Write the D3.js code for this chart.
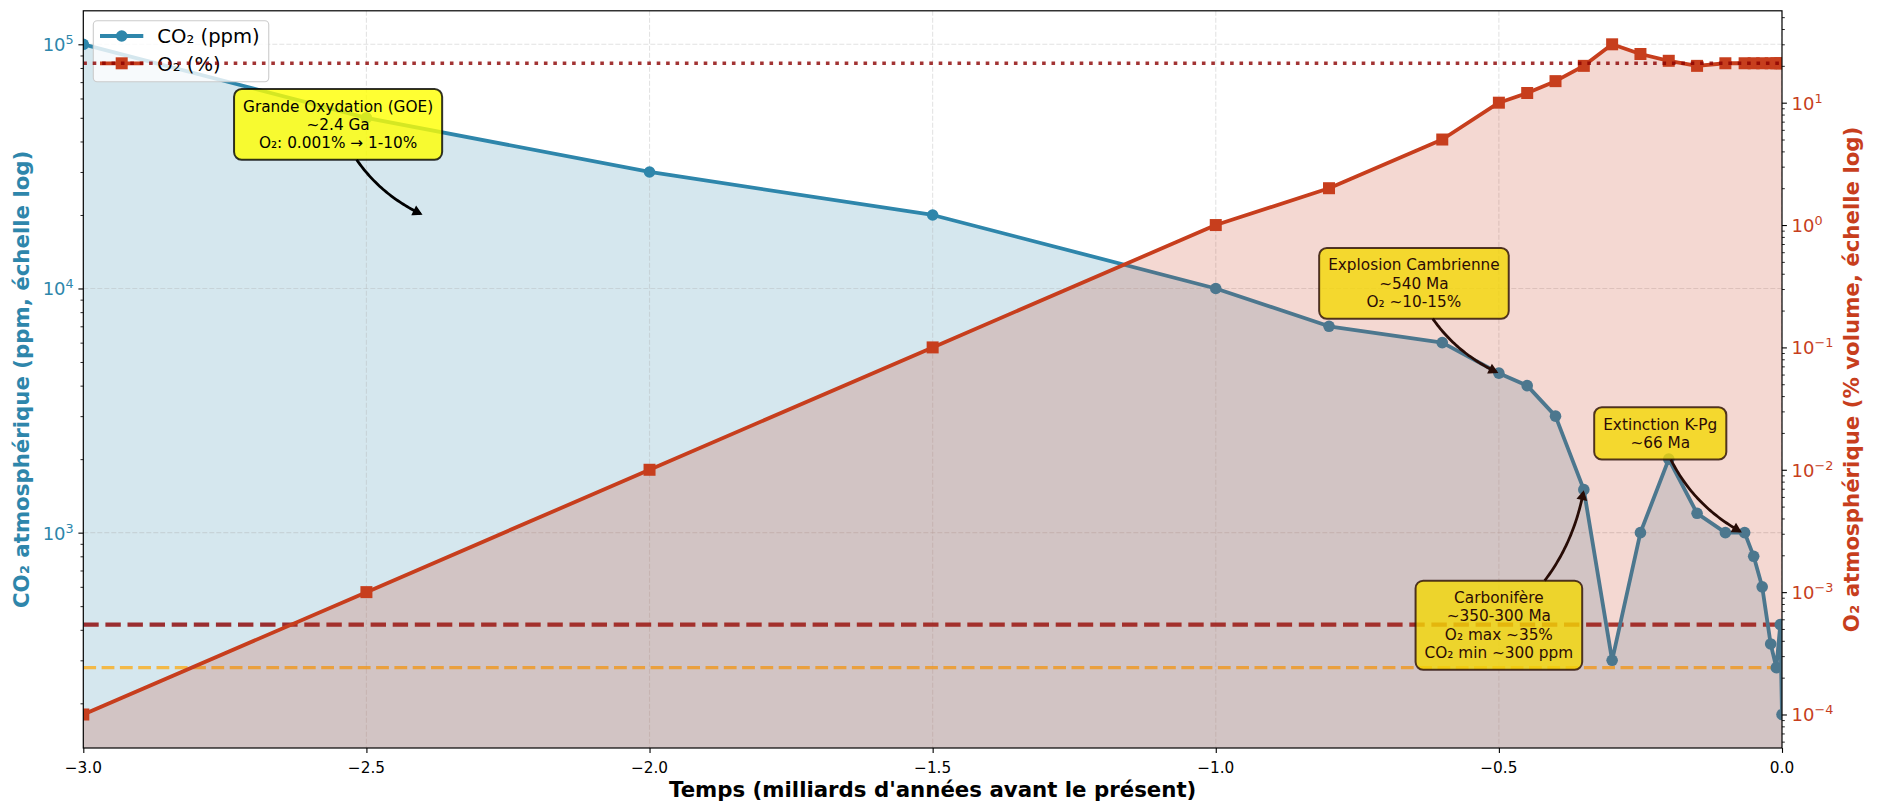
<!DOCTYPE html>
<html><head><meta charset="utf-8">
<script src="https://cdn.jsdelivr.net/npm/d3@7"></script>
<style>
body{margin:0;background:#fff}
svg{display:block}
text{font-family:"DejaVu Sans",sans-serif}
</style>
</head><body>
<svg id="chart" width="1879" height="806"></svg>
<script>
// ---------- DATA ----------
const times = [-3.0,-2.5,-2.0,-1.5,-1.0,-0.8,-0.6,-0.5,-0.45,-0.4,-0.35,-0.3,-0.25,-0.2,-0.15,-0.1,-0.066,-0.05,-0.035,-0.02,-0.01,-0.003,-0.00002];
const co2  = [100000,50000,30000,20000,10000,7000,6000,4500,4000,3000,1500,300,1000,2000,1200,1000,1000,800,600,350,280,420,180];
const o2   = [0.0001,0.001,0.01,0.1,1,2,5,10,12,15,20,30,25,22,20,21,21,21,21,21,21,21,21];
const xTicks = [-3.0,-2.5,-2.0,-1.5,-1.0,-0.5,0.0];
const co2TickExps = [3,4,5];
const o2TickExps = [-4,-3,-2,-1,0,1];
const co2RefLines = [420, 280];
const o2RefLine = 21;
const seriesLabels = ["CO₂ (ppm)", "O₂ (%)"];
const xLabel = "Temps (milliards d'années avant le présent)";
const yLabelLeft = "CO₂ atmosphérique (ppm, échelle log)";
const yLabelRight = "O₂ atmosphérique (% volume, échelle log)";
const annTexts = [
  ["Grande Oxydation (GOE)","~2.4 Ga","O₂: 0.001% → 1-10%"],
  ["Explosion Cambrienne","~540 Ma","O₂ ~10-15%"],
  ["Extinction K-Pg","~66 Ma"],
  ["Carbonifère","~350-300 Ma","O₂ max ~35%","CO₂ min ~300 ppm"]
];
const annPoints = [[-2.4,20000],[-0.5,4500],[-0.07,1000],[-0.35,1500]];
const annTextPos = [[-2.55,47000],[-0.65,10500],[-0.215,2550],[-0.5,418]];

// ---------- LAYOUT ----------
const L=83.3, R=1782, T=10.8, B=748;
const cCO2='#2E86AB', cO2='#C73E1D';
const LW=3.8, MR=5.8, MS=12;
const svg=d3.select('#chart');
svg.append('rect').attr('width',1879).attr('height',806).attr('fill','#fff');
svg.append('defs').append('clipPath').attr('id','clip').append('rect')
  .attr('x',L).attr('y',T).attr('width',R-L).attr('height',B-T);

function logDomain(v){const e=d3.extent(v).map(Math.log10);const m=(e[1]-e[0])*0.05;return [10**(e[0]-m),10**(e[1]+m)];}
const x=d3.scaleLinear().domain([xTicks[0],xTicks[xTicks.length-1]]).range([L,R]);
const yC=d3.scaleLog().domain(logDomain(co2)).range([B,T]);
const yO=d3.scaleLog().domain(logDomain(o2)).range([B,T]);
const idx=d3.range(times.length);

// ---------- AX1 (CO2) ----------
const ax1=svg.append('g').attr('clip-path','url(#clip)');
ax1.append('path').datum(idx)
  .attr('d',d3.area().x(i=>x(times[i])).y0(B).y1(i=>yC(co2[i])))
  .attr('fill',cCO2).attr('fill-opacity',0.2);
// grid
ax1.selectAll('.gx').data(xTicks).join('line')
  .attr('x1',d=>x(d)).attr('x2',d=>x(d)).attr('y1',T).attr('y2',B)
  .attr('stroke','#b0b0b0').attr('stroke-opacity',0.35).attr('stroke-width',1.1).attr('stroke-dasharray','5,2');
ax1.selectAll('.gy').data(co2TickExps.map(e=>10**e)).join('line')
  .attr('x1',L).attr('x2',R).attr('y1',d=>yC(d)).attr('y2',d=>yC(d))
  .attr('stroke','#b0b0b0').attr('stroke-opacity',0.35).attr('stroke-width',1.1).attr('stroke-dasharray','5,2');
// reference lines
const refStyles=[{c:'darkred',o:0.8,w:4.1,d:'15.4,6.7'},{c:'orange',o:0.7,w:3.1,d:'12.8,5.5'}];
co2RefLines.forEach((v,k)=>{
  ax1.append('line').attr('x1',L).attr('x2',R).attr('y1',yC(v)).attr('y2',yC(v))
    .attr('stroke',refStyles[k].c).attr('stroke-opacity',refStyles[k].o)
    .attr('stroke-width',refStyles[k].w).attr('stroke-dasharray',refStyles[k].d);
});
// line + markers
ax1.append('path').datum(idx)
  .attr('d',d3.line().x(i=>x(times[i])).y(i=>yC(co2[i])))
  .attr('fill','none').attr('stroke',cCO2).attr('stroke-width',LW).attr('stroke-linejoin','round');
ax1.selectAll('.mc').data(idx).join('circle')
  .attr('cx',i=>x(times[i])).attr('cy',i=>yC(co2[i])).attr('r',MR).attr('fill',cCO2);

// annotations
const fs=15.3, lineH=fs*1.2, padX=9, padY=7.8;
const annG=svg.append('g');
annTexts.forEach((lines,k)=>{
  const cx=x(annTextPos[k][0]), cy=yC(annTextPos[k][1]);
  const g=annG.append('g');
  const rect=g.append('rect');
  const t=g.append('text').attr('font-size',fs).attr('text-anchor','middle').attr('fill','#000');
  lines.forEach((s,i)=>{
    t.append('tspan').attr('x',cx).attr('y',cy+(i-(lines.length-1)/2)*lineH+0.36*fs).text(s);
  });
  let maxW=0; t.selectAll('tspan').each(function(){maxW=Math.max(maxW,this.getComputedTextLength());});
  const bw=maxW+2*padX, bh=lines.length*lineH+2*padY;
  const box={x0:cx-bw/2,x1:cx+bw/2,y0:cy-bh/2,y1:cy+bh/2};
  rect.attr('x',box.x0).attr('y',box.y0).attr('width',bw).attr('height',bh).attr('rx',7.6)
    .attr('fill','yellow').attr('fill-opacity',0.8).attr('stroke','#000').attr('stroke-opacity',0.8).attr('stroke-width',2);
  // arrow (arc3, rad=0.2)
  const p0=[cx,cy], p2=[x(annPoints[k][0]), yC(annPoints[k][1])];
  const rad=0.2, dx=p2[0]-p0[0], dy=p2[1]-p0[1];
  const c=[(p0[0]+p2[0])/2-rad*dy,(p0[1]+p2[1])/2+rad*dx];
  const Bz=tt=>[(1-tt)*(1-tt)*p0[0]+2*tt*(1-tt)*c[0]+tt*tt*p2[0],(1-tt)*(1-tt)*p0[1]+2*tt*(1-tt)*c[1]+tt*tt*p2[1]];
  const inside=p=>p[0]>=box.x0&&p[0]<=box.x1&&p[1]>=box.y0&&p[1]<=box.y1;
  let lo=0,hi=1; for(let j=0;j<40;j++){const m=(lo+hi)/2; if(inside(Bz(m)))lo=m; else hi=m;}
  const t0=hi;
  let a=t0,b2=1; for(let j=0;j<40;j++){const m=(a+b2)/2;const p=Bz(m);if(Math.hypot(p[0]-p2[0],p[1]-p2[1])>2.8)a=m;else b2=m;}
  const t1=a;
  const pts=d3.range(0,41).map(j=>Bz(t0+(t1-t0)*j/40));
  g.append('path').attr('d',d3.line()(pts)).attr('fill','none').attr('stroke','#000').attr('stroke-width',2.8);
  const tip=pts[pts.length-1], pr=Bz(t1-0.01);
  let ux=tip[0]-pr[0], uy=tip[1]-pr[1]; const n=Math.hypot(ux,uy); ux/=n; uy/=n;
  const hl=6.5, hw=3.6;
  const h1=[tip[0]-hl*ux-hw*uy, tip[1]-hl*uy+hw*ux], h2=[tip[0]-hl*ux+hw*uy, tip[1]-hl*uy-hw*ux];
  g.append('path').attr('d',`M${h1}L${tip}L${h2}Z`).attr('fill','#000').attr('stroke','#000').attr('stroke-width',2.2).attr('stroke-linejoin','miter');
});

// legend (ax1)
const lfs=19.6;
const leg=svg.append('g');
const legRect=leg.append('rect');
const rowsY=[36,63.3];
const legTexts=[];
seriesLabels.forEach((s,i)=>{
  const col=i===0?cCO2:cO2;
  leg.append('line').attr('x1',100).attr('x2',143.3).attr('y1',rowsY[i]).attr('y2',rowsY[i]).attr('stroke',col).attr('stroke-width',LW);
  if(i===0) leg.append('circle').attr('cx',121.7).attr('cy',rowsY[i]).attr('r',MR).attr('fill',col);
  else leg.append('rect').attr('x',121.7-MS/2).attr('y',rowsY[i]-MS/2).attr('width',MS).attr('height',MS).attr('fill',col);
  legTexts.push(leg.append('text').attr('x',157.3).attr('y',rowsY[i]+0.37*lfs).attr('font-size',lfs).attr('fill','#000').text(s));
});
const lw=d3.max(legTexts,t=>t.node().getComputedTextLength());
legRect.attr('x',93.3).attr('y',20.7).attr('width',157.3+lw+9-93.3).attr('height',61).attr('rx',3.9)
  .attr('fill','#fff').attr('fill-opacity',0.8).attr('stroke','#cccccc').attr('stroke-width',1.1);
legRect.lower();

// ---------- AX2 (O2) ----------
const ax2=svg.append('g').attr('clip-path','url(#clip)');
ax2.append('path').datum(idx)
  .attr('d',d3.area().x(i=>x(times[i])).y0(B).y1(i=>yO(o2[i])))
  .attr('fill',cO2).attr('fill-opacity',0.2);
ax2.append('path').datum(idx)
  .attr('d',d3.line().x(i=>x(times[i])).y(i=>yO(o2[i])))
  .attr('fill','none').attr('stroke',cO2).attr('stroke-width',LW).attr('stroke-linejoin','round');
ax2.selectAll('.ms').data(idx).join('rect')
  .attr('x',i=>x(times[i])-MS/2).attr('y',i=>yO(o2[i])-MS/2).attr('width',MS).attr('height',MS).attr('fill',cO2);
ax2.append('line').attr('x1',L).attr('x2',R).attr('y1',yO(o2RefLine)).attr('y2',yO(o2RefLine))
  .attr('stroke','darkred').attr('stroke-opacity',0.8).attr('stroke-width',3.6).attr('stroke-dasharray','3.6,5.8');

// ---------- AXES ----------
function minorsFor(exps,scale){const [a,b]=scale.domain();const out=[];for(let k=exps[0]-1;k<=exps[exps.length-1];k++){for(let m=2;m<10;m++){const v=m*10**k;if(v>=a&&v<=b)out.push(v);}}return out;}
function styleAxis(g,w){g.select('.domain').remove();g.selectAll('line').attr('stroke','#000').attr('stroke-width',w);g.selectAll('text').remove();}
svg.append('g').attr('transform',`translate(${L},0)`).call(d3.axisLeft(yC).tickValues(co2TickExps.map(e=>10**e)).tickSize(4.9)).call(g=>styleAxis(g,1.1));
svg.append('g').attr('transform',`translate(${L},0)`).call(d3.axisLeft(yC).tickValues(minorsFor(co2TickExps,yC)).tickSize(2.8)).call(g=>styleAxis(g,0.85));
svg.append('g').attr('transform',`translate(${R},0)`).call(d3.axisRight(yO).tickValues(o2TickExps.map(e=>10**e)).tickSize(4.9)).call(g=>styleAxis(g,1.1));
svg.append('g').attr('transform',`translate(${R},0)`).call(d3.axisRight(yO).tickValues(minorsFor(o2TickExps,yO)).tickSize(2.8)).call(g=>styleAxis(g,0.85));
svg.append('g').attr('transform',`translate(0,${B})`).call(d3.axisBottom(x).tickValues(xTicks).tickSize(4.9)).call(g=>styleAxis(g,1.1));

// spines
svg.append('rect').attr('x',L).attr('y',T).attr('width',R-L).attr('height',B-T).attr('fill','none').attr('stroke','#000').attr('stroke-width',1.2);

// tick labels
const fmtX=v=>(v<0?'\u2212':'')+Math.abs(v).toFixed(1);
svg.selectAll('.xl').data(xTicks).join('text').attr('x',d=>x(d)).attr('y',B+24.5)
  .attr('font-size',15.3).attr('text-anchor','middle').attr('fill','#000').text(fmtX);
const yfs=18;
function supLabel(sel,exp){sel.append('tspan').text('10');sel.append('tspan').attr('font-size',12.8).attr('dy',-7).text((exp<0?'\u2212':'')+Math.abs(exp));}
co2TickExps.forEach(e=>{
  const t=svg.append('text').attr('x',L-9.6).attr('y',yC(10**e)+7).attr('font-size',yfs).attr('text-anchor','end').attr('fill',cCO2);
  supLabel(t,e);
});
o2TickExps.forEach(e=>{
  const t=svg.append('text').attr('x',R+9.6).attr('y',yO(10**e)+7).attr('font-size',yfs).attr('text-anchor','start').attr('fill',cO2);
  supLabel(t,e);
});

// axis labels
svg.append('text').attr('x',(L+R)/2).attr('y',797).attr('font-size',21.3).attr('font-weight','bold').attr('text-anchor','middle').attr('fill','#000').text(xLabel);
svg.append('text').attr('transform',`translate(29,${(T+B)/2}) rotate(-90)`).attr('font-size',21.3).attr('font-weight','bold').attr('text-anchor','middle').attr('fill',cCO2).text(yLabelLeft);
svg.append('text').attr('transform',`translate(1859,${(T+B)/2}) rotate(-90)`).attr('font-size',21.3).attr('font-weight','bold').attr('text-anchor','middle').attr('fill',cO2).text(yLabelRight);
</script>
</body></html>
